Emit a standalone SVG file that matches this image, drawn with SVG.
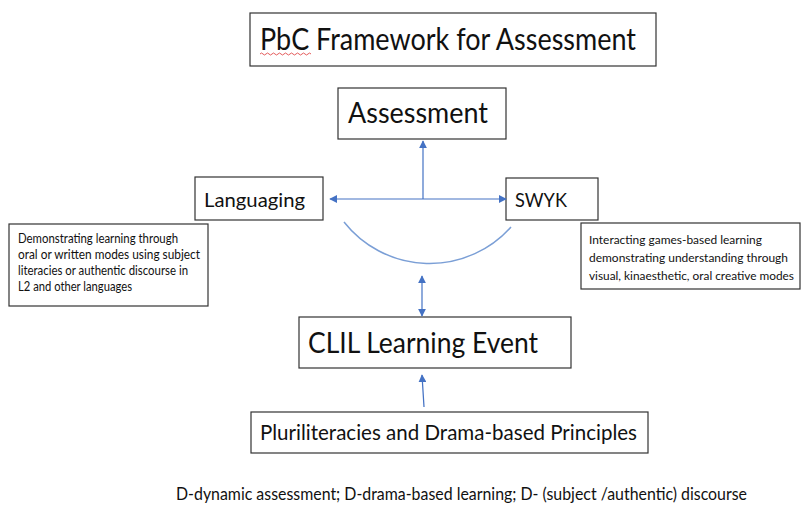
<svg xmlns="http://www.w3.org/2000/svg" width="802" height="505" viewBox="0 0 802 505">
<style>
.box{fill:#fff;stroke:#333;stroke-width:1.2}
.t{font-family:Lato,"Open Sans","Liberation Sans",sans-serif;fill:#111}
.ln{stroke:#4472c4;stroke-width:1.2;fill:none}
.arc{stroke:#7b9fd6;stroke-width:1.5;fill:none}
</style>
<defs>
<marker id="ah" viewBox="0 0 10 10" refX="9" refY="5" markerWidth="8" markerHeight="8" markerUnits="userSpaceOnUse" orient="auto-start-reverse">
<path d="M0,0 L10,5 L0,10 z" fill="#4472c4"/>
</marker>
</defs>
<rect width="802" height="505" fill="#fff"/>
<g id="title">
<rect class="box" x="250" y="13" width="406" height="53"/>
<text class="t" x="260" y="50" font-size="30" textLength="376" lengthAdjust="spacingAndGlyphs">PbC Framework for Assessment</text>
<path d="M260,54 q1.5,-2 3,0 t3,0 t3,0 t3,0 t3,0 t3,0 t3,0 t3,0 t3,0 t3,0 t3,0 t3,0 t3,0 t3,0 t3,0 t3,0 t3,0" fill="none" stroke="#d33" stroke-width="0.8"/>
</g>
<g id="assessment">
<rect class="box" x="338" y="88" width="168" height="51"/>
<text class="t" x="348" y="123" font-size="28" textLength="140" lengthAdjust="spacingAndGlyphs">Assessment</text>
</g>
<g id="languaging">
<rect class="box" x="195" y="177" width="128" height="43"/>
<text class="t" x="204" y="207" font-size="20" textLength="101" lengthAdjust="spacingAndGlyphs">Languaging</text>
</g>
<g id="swyk">
<rect class="box" x="506" y="178" width="92" height="42"/>
<text class="t" x="515" y="207" font-size="20" textLength="52" lengthAdjust="spacingAndGlyphs">SWYK</text>
</g>
<g id="languaging-desc">
<rect class="box" x="9" y="224" width="199" height="82"/>
<text class="t" font-size="12.5">
<tspan x="18" y="243" textLength="160" lengthAdjust="spacingAndGlyphs">Demonstrating learning through</tspan>
<tspan x="18" y="259" textLength="182" lengthAdjust="spacingAndGlyphs">oral or written modes using subject</tspan>
<tspan x="18" y="275" textLength="170" lengthAdjust="spacingAndGlyphs">literacies or authentic discourse in</tspan>
<tspan x="18" y="291" textLength="114" lengthAdjust="spacingAndGlyphs">L2 and other languages</tspan>
</text>
</g>
<g id="swyk-desc">
<rect class="box" x="581" y="223" width="219" height="66"/>
<text class="t" font-size="12">
<tspan x="589" y="244" textLength="173" lengthAdjust="spacingAndGlyphs">Interacting games-based learning</tspan>
<tspan x="589" y="262" textLength="199" lengthAdjust="spacingAndGlyphs">demonstrating understanding through</tspan>
<tspan x="589" y="280" textLength="205" lengthAdjust="spacingAndGlyphs">visual, kinaesthetic, oral creative modes</tspan>
</text>
</g>
<g id="clil">
<rect class="box" x="299" y="317" width="272" height="51"/>
<text class="t" x="308" y="353" font-size="28" textLength="230" lengthAdjust="spacingAndGlyphs">CLIL Learning Event</text>
</g>
<g id="pluri">
<rect class="box" x="251" y="412" width="397" height="41"/>
<text class="t" x="260" y="440" font-size="22" textLength="377" lengthAdjust="spacingAndGlyphs">Pluriliteracies and Drama-based Principles</text>
</g>
<g id="note">
<text class="t" x="176" y="500" font-size="17" textLength="571" lengthAdjust="spacingAndGlyphs">D-dynamic assessment; D-drama-based learning; D- (subject /authentic) discourse</text>
</g>
<g id="connectors">
<line class="ln" x1="423" y1="199" x2="423" y2="141" marker-end="url(#ah)"/>
<line class="ln" x1="330" y1="199" x2="506" y2="199" marker-start="url(#ah)" marker-end="url(#ah)"/>
<path class="arc" d="M344,222 A109,109 0 0 0 511,227"/>
<line class="ln" x1="422" y1="276" x2="422" y2="316" marker-start="url(#ah)" marker-end="url(#ah)"/>
<line class="ln" x1="424" y1="407" x2="422" y2="375" marker-end="url(#ah)"/>
</g>
</svg>
